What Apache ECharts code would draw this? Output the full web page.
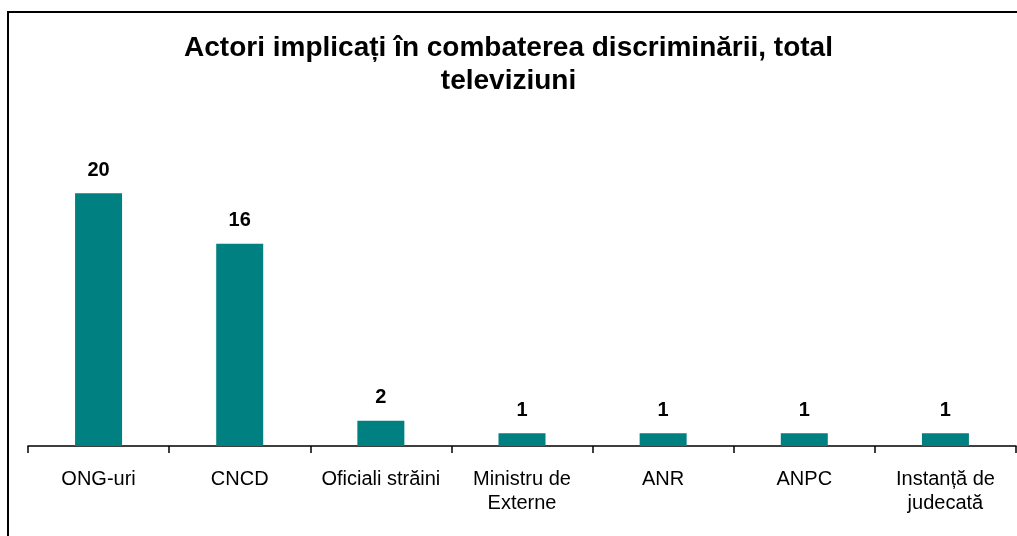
<!DOCTYPE html>
<html>
<head>
<meta charset="utf-8">
<script src="https://cdn.jsdelivr.net/npm/echarts@6/dist/echarts.min.js"></script>
<style>
    html, body { margin: 0; padding: 0; background: #fff; }
    #chart { width: 1017px; height: 536px; }
</style>
</head>
<body>
<div id="chart"></div>
<script>
// actori si numar de aparitii
var categories = ['ONG-uri', 'CNCD', 'Oficiali străini', 'Ministru de\nExterne', 'ANR', 'ANPC', 'Instanță de\njudecată'];
var values = [20, 16, 2, 1, 1, 1, 1];
var titleText = 'Actori implicați în combaterea discriminării, total\ntbeleviziuni'.replace('tbeleviziuni', 'televiziuni');

var chart = echarts.init(document.getElementById('chart'));
chart.setOption({
    backgroundColor: '#fff',
    animation: false,
    title: {
        text: titleText,
        left: 'center',
        top: 27,
        textStyle: {
            fontFamily: 'Liberation Sans, Arial',
            fontSize: 28,
            fontWeight: 'bold',
            lineHeight: 33,
            color: '#000'
        }
    },
    // chenarul graficului (doar stanga si sus sunt vizibile)
    graphic: [{
        type: 'rect',
        shape: { x: 8, y: 12, width: 1040, height: 560 },
        style: { fill: 'none', stroke: '#000', lineWidth: 2 },
        silent: true
    }],
    grid: {
        left: 28,
        right: 1,
        top: 130,
        bottom: 90
    },
    xAxis: {
        type: 'category',
        data: categories,
        axisLine: { lineStyle: { color: '#000', width: 1.5 } },
        axisTick: { show: true, length: 7, lineStyle: { color: '#000', width: 1.5 } },
        axisLabel: {
            interval: 0,
            margin: 21,
            fontFamily: 'Liberation Sans, Arial',
            fontSize: 20,
            lineHeight: 24,
            color: '#000'
        }
    },
    yAxis: {
        type: 'value',
        min: 0,
        max: 25,
        show: false,
        splitLine: { show: false }
    },
    series: [{
        type: 'bar',
        data: values,
        barWidth: 47,
        itemStyle: { color: '#008080' },
        label: {
            show: true,
            position: 'top',
            distance: 13,
            fontFamily: 'Liberation Sans, Arial',
            fontSize: 20,
            fontWeight: 'bold',
            color: '#000'
        }
    }]
});
</script>
</body>
</html>
